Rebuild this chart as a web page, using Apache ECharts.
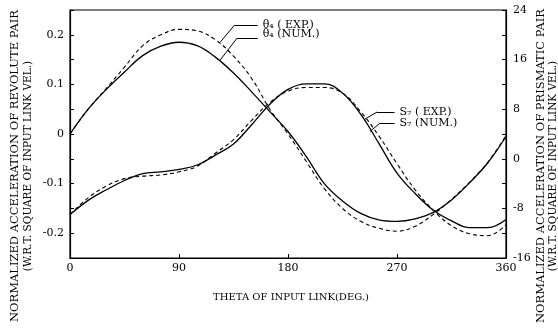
<!DOCTYPE html>
<html>
<head>
<meta charset="utf-8">
<script src="https://cdn.jsdelivr.net/npm/echarts@6/dist/echarts.min.js"></script>
<style>
  html, body { margin: 0; padding: 0; background: #fff; }
  #chart { width: 558px; height: 328px; }
</style>
</head>
<body>
<div id="chart"></div>
<script>
// input link angle (deg.)
const theta = [0, 15, 30, 45, 60, 75, 90, 105, 120, 135, 150, 165, 180,
  195, 210, 225, 240, 255, 270, 285, 300, 315, 330, 345, 360];
// revolute pair, left axis
const theta4Exp = [0, 0.05, 0.092, 0.135, 0.178, 0.2, 0.211, 0.208, 0.19, 0.157, 0.112, 0.05, 0.0,
  -0.055, -0.11, -0.15, -0.176, -0.19, -0.196, -0.186, -0.162, -0.132, -0.097, -0.057, -0.003];
const theta4Num = [0, 0.05, 0.09, 0.125, 0.158, 0.177, 0.185, 0.178, 0.155, 0.123, 0.085, 0.045, 0.005,
  -0.045, -0.1, -0.135, -0.16, -0.173, -0.176, -0.171, -0.158, -0.133, -0.098, -0.058, -0.005];
// prismatic pair, right axis
const s7Exp = [-9.0, -6.3, -4.4, -3.2, -2.8, -2.6, -2.1, -1.2, 0.9, 3.1, 6.2, 9.1, 10.9,
  11.5, 11.5, 10.6, 7.6, 3.7, -0.8, -5.0, -8.3, -10.8, -12.1, -12.4, -10.6];
const s7Num = [-9.0, -6.7, -5.0, -3.5, -2.4, -2.1, -1.7, -1.0, 0.6, 2.4, 5.5, 8.8, 11.2,
  12.1, 12.1, 10.6, 7.2, 2.5, -2.3, -5.6, -8.3, -10.0, -11.1, -11.1, -9.8];

const font = "DejaVu Serif";
const leftTitle = ["NORMALIZED ACCELERATION OF REVOLUTE PAIR", "(W.R.T. SQUARE OF INPUT LINK VEL.)"];
const rightTitle = ["NORMALIZED ACCELERATION OF PRISMATIC PAIR", "(W.R.T. SQUARE OF INPUT LINK VEL.)"];

let chart = echarts.init(document.getElementById("chart"));

function pairs(ys) {
  return theta.map((t, i) => [t, ys[i]]);
}

// leader line: curve point -> knee -> label end (data coords)
function leader(from, knee, end, text, offset) {
  return [
    [{ coord: from }, { coord: knee }],
    [{ coord: knee }, { coord: end, label: { show: true, formatter: text, offset: offset || [0, 0] } }],
  ];
}
let markStyle = {
  silent: true,
  symbol: "none",
  animation: false,
  lineStyle: { color: "#000", width: 1, type: "solid" },
  label: {
    show: false,
    position: "end",
    distance: 5,
    color: "#000",
    fontFamily: font,
    fontSize: 11,
  },
  emphasis: { disabled: true },
};

// rotated axis title line
function vText(x, text, size) {
  return {
    type: "text",
    x: x,
    y: 166,
    rotation: Math.PI / 2,
    silent: true,
    style: {
      text: text,
      fontFamily: font,
      fontSize: size,
      fill: "#000",
      align: "center",
      verticalAlign: "middle",
    },
  };
}

let option = {
  animation: false,
  grid: {
    left: 70, right: 52, top: 10, bottom: 70,
    outerBoundsMode: "none",
    containLabel: false,
    show: true, borderColor: "#000", borderWidth: 1.2,
  },
  graphic: [
    vText(15, leftTitle[0], 11.5),
    vText(28, leftTitle[1], 10.5),
    vText(541, rightTitle[0], 11.5),
    vText(553, rightTitle[1], 10.5),
  ],
  xAxis: {
    type: "value",
    min: 0, max: 360, interval: 90,
    name: "THETA OF INPUT LINK(DEG.)",
    nameLocation: "middle",
    nameGap: 34,
    nameTextStyle: { color: "#000", fontFamily: font, fontSize: 10, padding: [0, 0, 0, 6] },
    axisLine: { onZero: false, lineStyle: { color: "#000", width: 1.2 } },
    axisTick: { inside: true, length: 4, lineStyle: { color: "#000" } },
    axisLabel: { color: "#000", fontFamily: font, fontSize: 11, margin: 5 },
    splitLine: { show: false },
  },
  yAxis: [
    {
      type: "value",
      min: -0.25, max: 0.25, interval: 0.05,
      axisLine: { show: true, onZero: false, lineStyle: { color: "#000", width: 1.2 } },
      axisTick: { inside: true, length: 4, lineStyle: { color: "#000" } },
      axisLabel: {
        color: "#000", fontFamily: font, fontSize: 11, margin: 6,
        formatter: (v) => {
          let r = Math.round(v * 100);
          if (r % 10 !== 0) return "";
          return r === 0 ? "0" : (r / 100).toFixed(1);
        },
      },
      splitLine: { show: false },
    },
    {
      type: "value",
      min: -16, max: 24, interval: 4,
      position: "right",
      axisLine: { show: true, onZero: false, lineStyle: { color: "#000", width: 1.2 } },
      axisTick: { inside: true, length: 4, lineStyle: { color: "#000" } },
      axisLabel: {
        color: "#000", fontFamily: font, fontSize: 11, margin: 7,
        formatter: (v) => (v % 8 === 0 ? String(v) : ""),
      },
      splitLine: { show: false },
    },
  ],
  series: [
    {
      name: "θ4 (EXP.)",
      type: "line",
      yAxisIndex: 0,
      smooth: 0.4,
      symbol: "none",
      lineStyle: { color: "#000", width: 1.1, type: [4, 3] },
      data: pairs(theta4Exp),
      markLine: Object.assign({}, markStyle, {
        data: leader([124, 0.185], [136, 0.22], [155, 0.22], "θ₄ ( EXP.)"),
      }),
    },
    {
      name: "θ4 (NUM.)",
      type: "line",
      yAxisIndex: 0,
      smooth: 0.4,
      symbol: "none",
      lineStyle: { color: "#000", width: 1.3 },
      data: pairs(theta4Num),
      markLine: Object.assign({}, markStyle, {
        data: leader([124, 0.149], [138, 0.1935], [155, 0.1935], "θ₄ (NUM.)", [0, -4]),
      }),
    },
    {
      name: "S7 (EXP.)",
      type: "line",
      yAxisIndex: 1,
      smooth: 0.4,
      symbol: "none",
      lineStyle: { color: "#000", width: 1.1, type: [4, 3] },
      data: pairs(s7Exp),
      markLine: Object.assign({}, markStyle, {
        data: leader([243.6, 6.4], [253.5, 7.55], [268, 7.55], "S₇ ( EXP.)"),
      }),
    },
    {
      name: "S7 (NUM.)",
      type: "line",
      yAxisIndex: 1,
      smooth: 0.4,
      symbol: "none",
      lineStyle: { color: "#000", width: 1.3 },
      data: pairs(s7Num),
      markLine: Object.assign({}, markStyle, {
        data: leader([247.7, 4.4], [256, 5.77], [268, 5.77], "S₇ (NUM.)"),
      }),
    },
  ],
};
chart.setOption(option);
</script>
</body>
</html>
